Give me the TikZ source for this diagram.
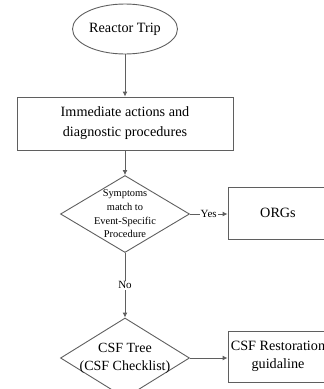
\documentclass[tikz,border=0pt]{standalone}
\usepackage{fontspec}
\setmainfont{Liberation Serif}
\usetikzlibrary{shapes.geometric, arrows.meta}
\definecolor{linegray}{HTML}{5F5F5F}
\tikzstyle{startstop} = [ellipse, minimum width=105pt, minimum height=50pt, inner sep=0pt, draw=linegray, line width=0.9pt, font=\fontsize{14.2}{19}\selectfont]
\tikzstyle{process} = [rectangle, minimum width=216pt, minimum height=53pt, inner sep=0pt, align=center, draw=linegray, line width=0.9pt, font=\fontsize{14.2}{20}\selectfont]
\tikzstyle{sidebox} = [rectangle, minimum width=100pt, minimum height=52pt, inner sep=0pt, align=center, draw=linegray, line width=0.9pt, font=\fontsize{14.2}{18}\selectfont]
\tikzstyle{decision} = [diamond, minimum width=129pt, minimum height=77pt, inner sep=0pt, draw=linegray, line width=0.9pt]
\tikzstyle{arrow} = [line width=0.9pt, draw=linegray, -{Latex[length=5pt, width=5pt]}]
\tikzstyle{answer} = [fill=white, inner sep=1pt, font=\fontsize{11}{12}\selectfont]

\begin{document}
\begin{tikzpicture}[x=1pt, y=-1pt]
	    \useasboundingbox (0,0) rectangle (324,389);
	    \clip (0,0) rectangle (324,389);

	    \node[startstop] (trip) at (125,29) {Reactor Trip};
	    \node[process] (immediate) at (125,123.5) {Immediate actions and\\diagnostic procedures};
	    \node[decision, label={[align=center, font=\fontsize{10.4}{13.7}\selectfont]center:Symptoms\\match to\\Event-Specific\\Procedure}] (match) at (125,214) {};
	    \node[sidebox] (orgs) at (278,213) {ORGs};
	    \node[decision, minimum height=80pt, label={[align=center, font=\fontsize{14}{18}\selectfont]center:CSF Tree\\(CSF Checklist)}] (csf) at (125,358) {};
	    \node[sidebox, minimum height=51pt] (restore) at (278,356.5) {CSF Restoration\\guidaline};

	    \draw[arrow] (trip) -- (immediate);
	    \draw[arrow] (immediate) -- (match);
	    \draw[arrow] (match.east) -- node[answer]{Yes} (orgs.west |- match.east);
	    \draw[arrow] (match) -- node[answer]{No} (csf);
	    \draw[arrow] (csf.east) -- (restore.west |- csf.east);
\end{tikzpicture}
\end{document}
